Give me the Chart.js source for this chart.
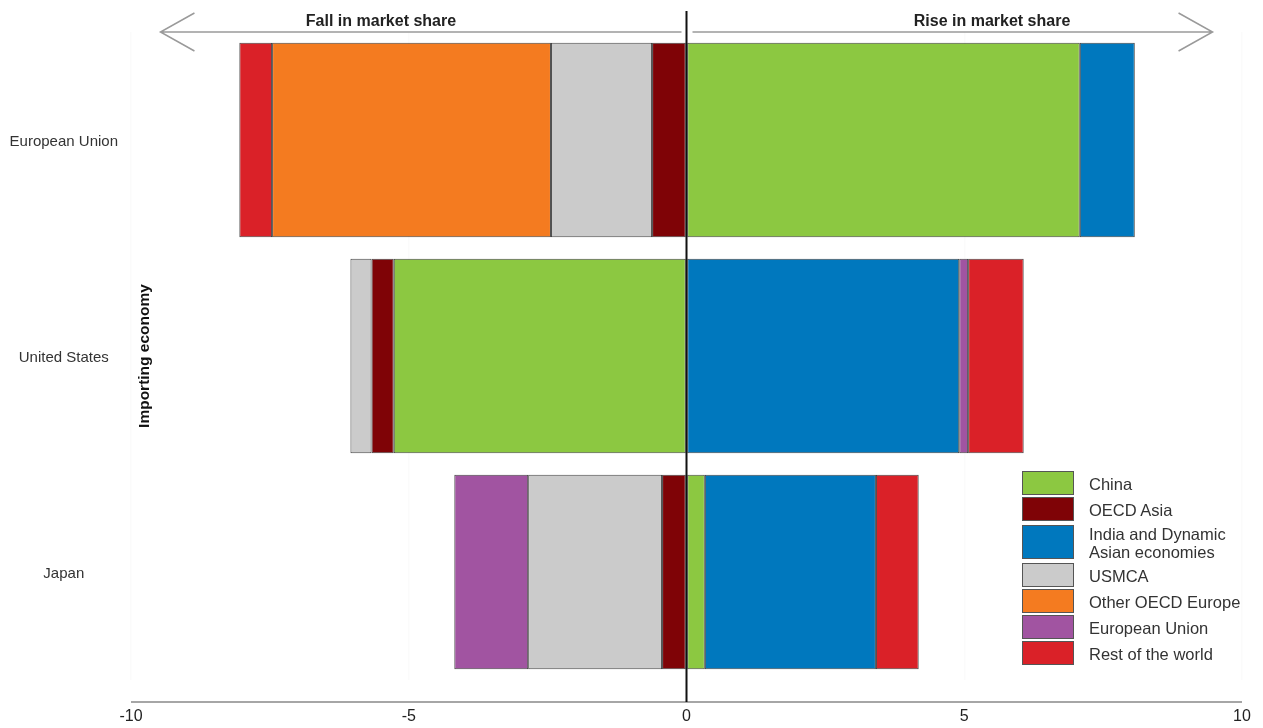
<!DOCTYPE html>
<html>
<head>
<meta charset="utf-8">
<script src="https://cdn.jsdelivr.net/npm/chart.js@4"></script>
<style>
  html, body { margin: 0; background: #fff; overflow: hidden; font-family: Arial, "Liberation Sans", sans-serif; }
  #wrap { position: relative; width: 1263px; height: 728px; }
  #chart { display: block; }
  #legend { position: absolute; left: 1022px; top: 471px; }
  .row { display: flex; align-items: center; margin-bottom: 2px; }
  .box { width: 50px; height: 22px; border: 1.5px solid #555; box-sizing: content-box; }
  .box.tall { height: 32px; }
  .lbl { margin-left: 15px; font-size: 16.5px; line-height: 18px; color: #333; padding-top: 2px; }
</style>
</head>
<body>
<div id="wrap">
  <canvas id="chart" width="1263" height="728" style="width:1263px;height:728px"></canvas>
  <div id="legend"></div>
</div>
<script>
// Categories (importing economies) and change in market share by exporter
const categories = ['European Union', 'United States', 'Japan'];
const china = [7.08, -5.27, 0.33];
const oecdAsia = [-0.62, -0.40, -0.44];
const indiaDae = [0.99, 4.91, 3.08];
const usmca = [-1.82, -0.38, -2.41];
const otherOecdEurope = [-5.02, null, null];
const europeanUnion = [null, 0.16, -1.33];
const restOfWorld = [-0.59, 1.00, 0.77];
const xTicks = [-10, -5, 0, 5, 10];

const series = [
    { label: 'China', data: china, color: '#8cc841' },
    { label: 'OECD Asia', data: oecdAsia, color: '#7f0306' },
    { label: 'India and Dynamic\nAsian economies', data: indiaDae, color: '#0078be' },
    { label: 'USMCA', data: usmca, color: '#cbcbcb' },
    { label: 'Other OECD Europe', data: otherOecdEurope, color: '#f47b20' },
    { label: 'European Union', data: europeanUnion, color: '#a154a1' },
    { label: 'Rest of the world', data: restOfWorld, color: '#da2128' }
];

// Arrows, zero line, axis baseline and y title
const decorations = {
    id: 'decorations',
    afterDraw(chart) {
        const { ctx, chartArea, scales: { x, y } } = chart;
        const zero = x.getPixelForValue(0);
        const arrowY = chartArea.top;
        const baseY = chartArea.bottom + 22;
        ctx.save();

        // baseline
        ctx.strokeStyle = '#a6a6a6';
        ctx.lineWidth = 2;
        ctx.beginPath();
        ctx.moveTo(chartArea.left, baseY);
        ctx.lineTo(chartArea.right, baseY);
        ctx.stroke();

        // arrows
        const leftTip = x.getPixelForValue(-9.47);
        const rightTip = x.getPixelForValue(9.47);
        ctx.strokeStyle = '#9a9a9a';
        ctx.lineWidth = 1.5;
        ctx.beginPath();
        ctx.moveTo(leftTip, arrowY);
        ctx.lineTo(zero - 5, arrowY);
        ctx.moveTo(zero + 6, arrowY);
        ctx.lineTo(rightTip, arrowY);
        ctx.moveTo(leftTip + 34, arrowY - 19);
        ctx.lineTo(leftTip, arrowY);
        ctx.lineTo(leftTip + 34, arrowY + 19);
        ctx.moveTo(rightTip - 34, arrowY - 19);
        ctx.lineTo(rightTip, arrowY);
        ctx.lineTo(rightTip - 34, arrowY + 19);
        ctx.stroke();

        ctx.fillStyle = '#222';
        ctx.font = 'bold 16px Arial, "Liberation Sans", sans-serif';
        ctx.textAlign = 'center';
        ctx.textBaseline = 'middle';
        ctx.fillText('Fall in market share', x.getPixelForValue(-5.5), arrowY - 10);
        ctx.fillText('Rise in market share', x.getPixelForValue(5.5), arrowY - 10);

        // zero line
        ctx.strokeStyle = '#111';
        ctx.lineWidth = 2;
        ctx.beginPath();
        ctx.moveTo(zero, chartArea.top - 21);
        ctx.lineTo(zero, baseY);
        ctx.stroke();

        // y axis title
        ctx.translate(chartArea.left + 14, y.getPixelForValue(1));
        ctx.rotate(-Math.PI / 2);
        ctx.font = 'bold 15.5px Arial, "Liberation Sans", sans-serif';
        ctx.fillStyle = '#111';
        ctx.fillText('Importing economy', 0, 0);
        ctx.restore();
    }
};

const ctx = document.getElementById('chart').getContext('2d');
const myChart = new Chart(ctx, {
    type: 'bar',
    data: {
        labels: categories,
        datasets: series.map(s => ({
            label: s.label,
            data: s.data,
            backgroundColor: s.color,
            borderColor: 'rgba(20, 20, 20, 0.8)',
            borderWidth: 1,
            borderSkipped: false,
            barPercentage: 0.9,
            categoryPercentage: 1.0
        }))
    },
    options: {
        responsive: false,
        animation: false,
        indexAxis: 'y',
        layout: { padding: { top: 32, right: 21, bottom: 0, left: 0 } },
        plugins: {
            legend: { display: false },
            tooltip: { enabled: false }
        },
        scales: {
            x: {
                stacked: true,
                min: -10,
                max: 10,
                z: 1,
                afterBuildTicks: scale => { scale.ticks = xTicks.map(v => ({ value: v })); },
                // tick padding pushes labels below the baseline; keep the plot size fixed
                afterFit: scale => {
                    scale.height = 48;
                    scale.paddingLeft = 0;
                    scale.paddingRight = 0;
                },
                grid: { color: 'rgba(245, 245, 245, 0.4)', lineWidth: 1.5, drawTicks: false },
                border: { display: false },
                ticks: {
                    padding: 27,
                    color: '#222',
                    font: { size: 16, family: 'Arial, "Liberation Sans", sans-serif' }
                }
            },
            y: {
                stacked: true,
                afterFit: scale => { scale.width = 131; },
                grid: { display: false, drawTicks: false },
                border: { display: false },
                ticks: {
                    crossAlign: 'center',
                    padding: 13,
                    labelOffset: 2,
                    color: '#333',
                    font: { size: 15, family: 'Arial, "Liberation Sans", sans-serif' }
                }
            }
        }
    },
    plugins: [decorations]
});

// HTML legend built from the datasets
const legendEl = document.getElementById('legend');
series.forEach(s => {
    const row = document.createElement('div');
    row.className = 'row';
    const box = document.createElement('div');
    box.className = 'box' + (s.label.includes('\n') ? ' tall' : '');
    box.style.background = s.color;
    const lbl = document.createElement('div');
    lbl.className = 'lbl';
    lbl.innerHTML = s.label.split('\n').join('<br>');
    row.appendChild(box);
    row.appendChild(lbl);
    legendEl.appendChild(row);
});
</script>
</body>
</html>
